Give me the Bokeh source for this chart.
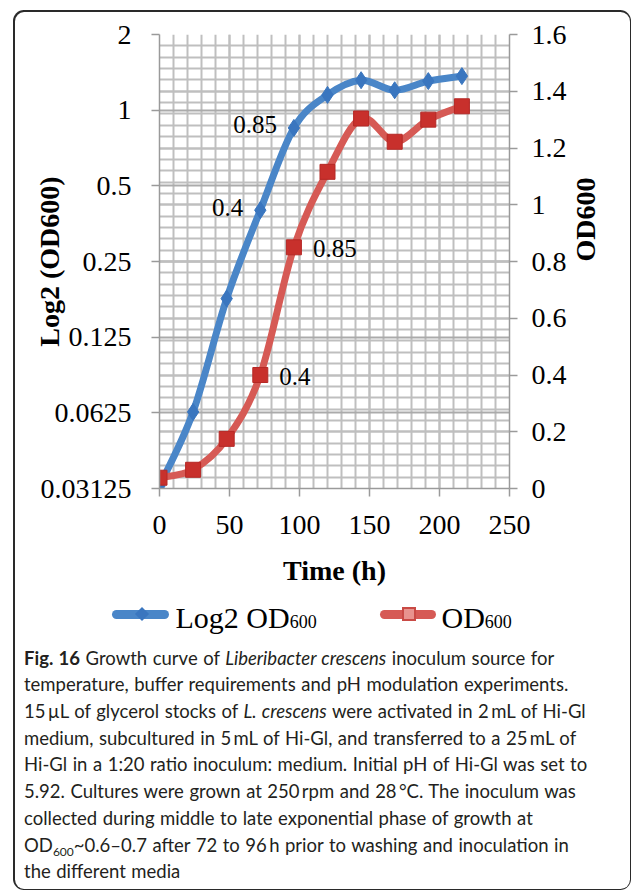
import math
from bokeh.plotting import figure
from bokeh.models import (Range1d, LinearAxis, LinearScale, FixedTicker, Grid, Div, Spacer,
                          GridBox, ColumnDataSource, PrintfTickFormatter)
from bokeh.layouts import column, row
from bokeh.embed import file_html
from bokeh.resources import INLINE
from bokeh.core.properties import value

# ---------------- data ----------------
hours = [0, 24, 48, 72, 96, 120, 144, 168, 192, 216]
log2_od600 = [0.032, 0.063, 0.178, 0.40, 0.85, 1.15, 1.316, 1.20, 1.305, 1.366]
od600 = [0.038, 0.066, 0.175, 0.40, 0.85, 1.116, 1.304, 1.222, 1.30, 1.347]
labelled_idx = [3, 4]          # points carrying data labels (72 h, 96 h)

left_ticks = [0.03125, 0.0625, 0.125, 0.25, 0.5, 1, 2]
right_ticks = [0, 0.2, 0.4, 0.6, 0.8, 1, 1.2, 1.4, 1.6]
x_ticks = [0, 50, 100, 150, 200, 250]

BLUE = "#4a86c8"
BLUE_M = "#3a76bf"
RED = "#d65a55"
RED_M = "#c8302c"
GRID = "#bfbfbf"
AXIS = "#9a9a9a"
FRAME = "#2a2a2a"
SERIF = "Liberation Serif"

SIDE_W = 11
MID_W = 596
STRIP_H = 2
FIG_H = 583
LEG_H = 40
CAP_H = 253
TOTAL_H = STRIP_H + FIG_H + LEG_H + CAP_H + STRIP_H
TOTAL_W = SIDE_W + MID_W + SIDE_W


def smooth_segments(xs, ys):
    """Catmull-Rom -> cubic Bezier control points (Excel-like smoothed line)."""
    n = len(xs)
    out = {k: [] for k in ("x0", "y0", "x1", "y1", "cx0", "cy0", "cx1", "cy1")}
    for i in range(n - 1):
        ip, inn = max(i - 1, 0), min(i + 2, n - 1)
        out["x0"].append(xs[i]); out["y0"].append(ys[i])
        out["x1"].append(xs[i + 1]); out["y1"].append(ys[i + 1])
        out["cx0"].append(xs[i] + (xs[i + 1] - xs[ip]) / 6)
        out["cy0"].append(ys[i] + (ys[i + 1] - ys[ip]) / 6)
        out["cx1"].append(xs[i + 1] - (xs[inn] - xs[i]) / 6)
        out["cy1"].append(ys[i + 1] - (ys[inn] - ys[i]) / 6)
    return out


p = figure(frame_width=350, frame_height=454,
           x_range=Range1d(0, 250), y_range=Range1d(2 ** -5, 2),
           y_axis_type="log", output_backend="svg", toolbar_location=None,
           min_border_left=135, min_border_right=MID_W - 135 - 350, min_border_top=22,
           min_border_bottom=107, outline_line_color=None,
           background_fill_color="white", border_fill_alpha=0, margin=0)
p.extra_y_ranges = {"od": Range1d(0, 1.6)}
p.extra_y_scales = {"od": LinearScale()}


def style_axis(ax, standoff):
    ax.axis_line_color = AXIS
    ax.axis_line_width = 1.5
    ax.major_tick_line_color = AXIS
    ax.major_tick_line_width = 1.5
    ax.major_tick_out = 8
    ax.major_tick_in = 0
    ax.minor_tick_out = 0
    ax.minor_tick_in = 0
    ax.major_label_text_font = SERIF
    ax.major_label_text_font_size = "28px"
    ax.major_label_text_color = "black"
    ax.major_label_standoff = standoff
    ax.axis_label_text_font = SERIF
    ax.axis_label_text_font_style = "bold"
    ax.axis_label_text_font_size = "28px"
    ax.axis_label_text_color = "black"


# ---------------- axes ----------------
ly = p.yaxis[0]
ly.ticker = FixedTicker(ticks=left_ticks, minor_ticks=[])
ly.formatter = PrintfTickFormatter(format="%g")
style_axis(ly, 20)
ly.axis_label = "Log2 (OD600)"
ly.axis_label_standoff = -27

bx = p.xaxis[0]
bx.ticker = FixedTicker(ticks=x_ticks, minor_ticks=[])
style_axis(bx, 19)
bx.axis_label = "Time (h)"
bx.axis_label_standoff = 18

ry = LinearAxis(y_range_name="od", ticker=FixedTicker(ticks=right_ticks, minor_ticks=[]),
                formatter=PrintfTickFormatter(format="%g"))
style_axis(ry, 14)
ry.axis_label = "OD600"
ry.axis_label_standoff = 16
ry.axis_label_orientation = math.pi / 2
p.add_layout(ry, "right")

# ---------------- grids ----------------
p.xgrid.ticker = FixedTicker(ticks=x_ticks, minor_ticks=list(range(0, 251, 10)))
p.xgrid.grid_line_color = GRID
p.xgrid.grid_line_width = 2
p.xgrid.minor_grid_line_color = GRID
p.xgrid.minor_grid_line_width = 2

p.ygrid.ticker = FixedTicker(ticks=left_ticks, minor_ticks=[])
p.ygrid.grid_line_color = "#ababab"
p.ygrid.grid_line_width = 2

od_grid = Grid(dimension=1, y_range_name="od",
               ticker=FixedTicker(ticks=right_ticks,
                                  minor_ticks=[round(0.04 * i, 2) for i in range(41)]),
               grid_line_color=GRID, grid_line_width=2,
               minor_grid_line_color=GRID, minor_grid_line_width=2)
p.add_layout(od_grid)

# ---------------- series ----------------
lx = [math.log2(v) for v in log2_od600]
seg_b = smooth_segments(hours, lx)
for k in ("y0", "y1", "cy0", "cy1"):
    seg_b[k] = [2 ** v for v in seg_b[k]]
p.bezier(source=ColumnDataSource(seg_b), x0="x0", y0="y0", x1="x1", y1="y1",
         cx0="cx0", cy0="cy0", cx1="cx1", cy1="cy1",
         line_color=BLUE, line_width=7, line_cap="round")
p.scatter(hours, log2_od600, marker="diamond", size=17, fill_color=BLUE_M,
          line_color=BLUE_M)

seg_r = smooth_segments(hours, od600)
p.bezier(source=ColumnDataSource(seg_r), x0="x0", y0="y0", x1="x1", y1="y1",
         cx0="cx0", cy0="cy0", cx1="cx1", cy1="cy1",
         line_color=RED, line_width=7, line_cap="round", y_range_name="od")
p.scatter(hours, od600, marker="square", size=15, fill_color=RED_M,
          line_color="#b52825", y_range_name="od")

# ---------------- data labels ----------------
blue_lbl = ColumnDataSource(dict(x=[hours[i] for i in labelled_idx],
                                 y=[log2_od600[i] for i in labelled_idx],
                                 t=[f"{log2_od600[i]:g}" for i in labelled_idx]))
p.text(x="x", y="y", text="t", source=blue_lbl, x_offset=-17, y_offset=-3,
       text_align="right", text_baseline="middle", text_font=value(SERIF),
       text_font_size="25px", text_color="black")
red_lbl = ColumnDataSource(dict(x=[hours[i] for i in labelled_idx],
                                y=[od600[i] for i in labelled_idx],
                                t=[f"{od600[i]:g}" for i in labelled_idx]))
p.text(x="x", y="y", text="t", source=red_lbl, x_offset=19, y_offset=1,
       text_align="left", text_baseline="middle", text_font=value(SERIF),
       text_font_size="25px", text_color="black", y_range_name="od")


# ---------------- rounded frame ----------------
def side(left_edge):
    dark_left = 0 if left_edge else SIDE_W - 40
    white_left = 1.5 if left_edge else SIDE_W - 41.5
    return Div(width=SIDE_W, height=TOTAL_H, margin=0, text=(
        f"<div style='position:relative;width:{SIDE_W}px;height:{TOTAL_H}px;overflow:hidden;'>"
        f"<div style='position:absolute;left:{dark_left}px;top:0;width:40px;height:{TOTAL_H}px;"
        f"background:{FRAME};border-radius:{SIDE_W}px;'></div>"
        f"<div style='position:absolute;left:{white_left}px;top:1.5px;width:40px;"
        f"height:{TOTAL_H - 3}px;background:white;border-radius:{SIDE_W - 1.5}px;'></div></div>"))


# a full-size, otherwise transparent layer holding the top and bottom rules
frame_layer = Div(width=TOTAL_W, height=TOTAL_H, margin=0, text=(
    f"<div style='position:relative;width:{TOTAL_W}px;height:{TOTAL_H}px;'>"
    f"<div style='position:absolute;left:{SIDE_W - 1}px;top:0;width:{MID_W + 2}px;height:1.5px;"
    f"background:{FRAME};'></div>"
    f"<div style='position:absolute;left:{SIDE_W - 1}px;top:{TOTAL_H - 1.5}px;width:{MID_W + 2}px;"
    f"height:1.5px;background:{FRAME};'></div></div>"))

# ---------------- legend ----------------
legend_html = f"""
<div style="position:relative;width:{MID_W}px;height:{LEG_H}px;font-family:'{SERIF}';font-size:30px;line-height:30px;color:#000;">
  <div style="position:absolute;left:87.5px;top:15px;width:57px;height:9px;background:{BLUE};border-radius:5px;"></div>
  <div style="position:absolute;left:112.5px;top:14px;width:10px;height:10px;background:{BLUE_M};transform:rotate(45deg);"></div>
  <div style="position:absolute;left:151.5px;top:8px;white-space:nowrap;">Log2 OD<span style="font-size:18px;">600</span></div>
  <div style="position:absolute;left:355.5px;top:15px;width:56px;height:9px;background:{RED};border-radius:5px;"></div>
  <div style="position:absolute;left:378px;top:12px;width:14px;height:14px;background:#c94a45;"></div>
  <div style="position:absolute;left:380px;top:14px;width:10px;height:10px;background:#e8938e;"></div>
  <div style="position:absolute;left:417.5px;top:8px;white-space:nowrap;">OD<span style="font-size:18px;">600</span></div>
</div>
"""
legend_div = Div(text=legend_html, width=MID_W, height=LEG_H, margin=0)

# ---------------- caption ----------------
ts = "\u2009"
lines = [
    "<b>Fig. 16</b> Growth curve of <i>Liberibacter crescens</i> inoculum source for",
    "temperature, buffer requirements and pH modulation experiments.",
    f"15{ts}µL of glycerol stocks of <i>L. crescens</i> were activated in 2{ts}mL of Hi-Gl",
    f"medium, subcultured in 5{ts}mL of Hi-Gl, and transferred to a 25{ts}mL of",
    "Hi-Gl in a 1:20 ratio inoculum: medium. Initial pH of Hi-Gl was set to",
    f"5.92. Cultures were grown at 250{ts}rpm and 28{ts}°C. The inoculum was",
    "collected during middle to late exponential phase of growth at",
    f"OD<span style='font-size:12px;line-height:0;vertical-align:-4px'>600</span>~0.6–0.7 after 72 to 96{ts}h prior to washing and inoculation in",
    "the different media",
]
caption_html = (
    f"<div style=\"width:{MID_W}px;height:{CAP_H}px;"
    "font-family:Lato;font-size:18.5px;line-height:26.7px;"
    "word-spacing:0.8px;color:#231f20;white-space:nowrap;padding-top:9.6px;box-sizing:border-box;\">"
    + "<br>".join(lines) + "</div>")
caption_div = Div(text=caption_html, width=MID_W, height=CAP_H, margin=0)

middle = column(Spacer(width=MID_W, height=STRIP_H, margin=0), p, legend_div, caption_div,
                Spacer(width=MID_W, height=STRIP_H, margin=0), spacing=0, margin=0)
content = row(side(True), middle, side(False), spacing=0, margin=0)

layout = GridBox(children=[(frame_layer, 0, 0), (content, 0, 0)], margin=(10, 0, 0, 13))

open("out.html", "w").write(file_html(layout, INLINE))
